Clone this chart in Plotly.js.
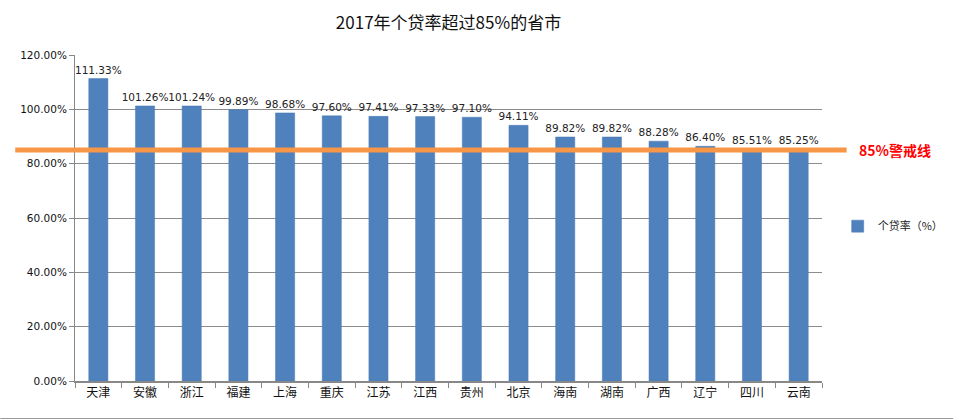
<!DOCTYPE html>
<html><head><meta charset="utf-8">
<script src="https://cdn.plot.ly/plotly-3.0.1.min.js"></script>
<style>html,body{margin:0;padding:0;background:#fff}#chart{width:953px;height:420px}</style>
</head><body><div id="chart"></div>
<script>
const categories = ['天津','安徽','浙江','福建','上海','重庆','江苏','江西','贵州','北京','海南','湖南','广西','辽宁','四川','云南'];
const loanRates = [111.33,101.26,101.24,99.89,98.68,97.60,97.41,97.33,97.10,94.11,89.82,89.82,88.28,86.40,85.51,85.25];
const warningLevel = 85;
const seriesName = '个贷率（%）';
const warningLabel = '85%警戒线';
const titleText = '2017年个贷率超过85%的省市';

const latin = 'DejaVu Sans, Noto Sans CJK SC, sans-serif';
const cjk = 'Noto Sans CJK SC, sans-serif';

const trace = {
  type: 'bar', x: categories, y: loanRates, name: seriesName,
  marker: {color: '#4F81BD', line: {color: '#4A7AB3', width: 0.5}},
  text: loanRates.map(v => v.toFixed(2) + '%'),
  textposition: 'outside', cliponaxis: false, constraintext: 'none',
  textfont: {family: latin, size: 10.5, color: '#222'},
  hoverinfo: 'none'
};

const layout = {
  width: 953, height: 420,
  margin: {l: 75, r: 131, t: 55, b: 39, autoexpand: false},
  paper_bgcolor: '#fff', plot_bgcolor: '#fff',
  bargap: 0.59,
  title: {text: titleText, font: {family: cjk, size: 17, color: '#111'}, x: 0.5, xanchor: 'center', y: 0.945, yanchor: 'middle', xref: 'paper'},
  showlegend: true,
  legend: {x: 1.021, y: 0.475, xanchor: 'left', yanchor: 'middle', font: {family: cjk, size: 11, color: '#222'}, itemwidth: 30, bgcolor: 'rgba(0,0,0,0)'},
  xaxis: {
    type: 'category', showgrid: false, showline: true, linecolor: '#888', linewidth: 2,
    ticks: 'outside', tickson: 'boundaries', ticklen: 5, tickcolor: '#888',
    tickfont: {family: cjk, size: 12, color: '#111'}
  },
  yaxis: {
    range: [0, 120], dtick: 20, tickformat: '.2f', ticksuffix: '%',
    showgrid: true, gridcolor: '#8c8c8c', gridwidth: 1,
    showline: true, linecolor: '#888', linewidth: 1,
    ticks: 'outside', ticklen: 5, tickcolor: '#888', zeroline: false,
    tickfont: {family: latin, size: 10.5, color: '#111'}
  },
  shapes: [
    {type: 'line', xref: 'paper', yref: 'y', x0: -0.08, x1: 1.033, y0: warningLevel, y1: warningLevel,
     line: {color: '#F79646', width: 5}},
    {type: 'line', xref: 'paper', yref: 'paper', x0: -0.1, x1: 1.18, y0: -0.115, y1: -0.115,
     line: {color: '#999', width: 1}}
  ],
  annotations: [
    {xref: 'paper', yref: 'y', x: 1.047, y: warningLevel, xanchor: 'left', yanchor: 'middle',
     text: '<b>' + warningLabel + '</b>', showarrow: false,
     font: {family: cjk, size: 14, color: '#FF0000'}}
  ]
};

Plotly.newPlot('chart', [trace], layout, {displayModeBar: false, staticPlot: true});
</script>
</body></html>
